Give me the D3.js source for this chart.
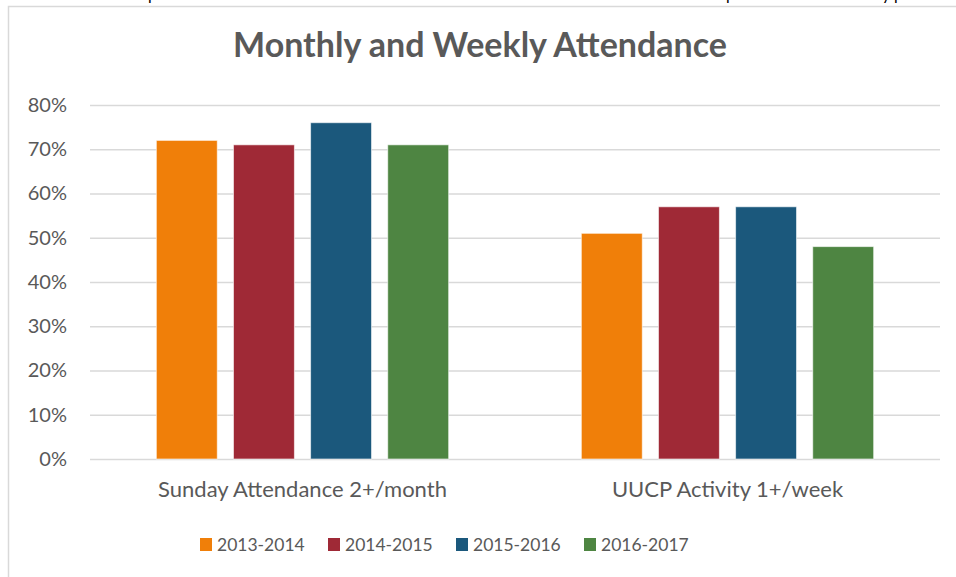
<!DOCTYPE html>
<html lang="en">
<head>
    <meta charset="utf-8"/>
    <title>Monthly and Weekly Attendance</title>
    <script src="https://d3js.org/d3.v7.min.js"></script>
    <style>
        body { margin: 0; background: #fff; }
        text { font-family: Lato, "Open Sans", sans-serif; fill: #595959; }
    </style>
</head>
<body>
<script>
    // data
    var categories = ['Sunday Attendance 2+/month', 'UUCP Activity 1+/week'];
    var seasons = ['2013-2014', '2014-2015', '2015-2016', '2016-2017'];
    var colors = ['#F07F09', '#9F2936', '#1B587C', '#4E8542'];
    var values = {
        '2013-2014': [0.72, 0.51],
        '2014-2015': [0.71, 0.57],
        '2015-2016': [0.76, 0.57],
        '2016-2017': [0.71, 0.48]
    };
    var yTicks = [0, 0.1, 0.2, 0.3, 0.4, 0.5, 0.6, 0.7, 0.8];

    var width = 956;
    var height = 577;
    var plotLeft = 90, plotRight = 940, plotTop = 105, plotBottom = 459;

    var svg = d3.select('body')
                .append('svg')
                .attr('width', width)
                .attr('height', height);

    // bits of the page text above the chart, only the descenders show
    var frag = svg.append('g').style('font-size', '16px');
    frag.append('text').attr('x', 148).attr('y', 0).style('fill', '#000').text('p');
    frag.append('text').attr('x', 726).attr('y', 0).style('fill', '#000').text('p');
    frag.append('text').attr('x', 882).attr('y', 0).style('fill', '#000').text('y p');

    // chart frame
    svg.append('rect')
       .attr('x', 8.5).attr('y', 6.5)
       .attr('width', 960).attr('height', 600)
       .attr('fill', '#fff')
       .attr('stroke', '#d9d9d9')
       .attr('stroke-width', 1.5);

    svg.append('text')
       .attr('x', 480).attr('y', 57)
       .attr('text-anchor', 'middle')
       .style('font-size', '34px')
       .style('font-weight', 'bold')
       .text('Monthly and Weekly Attendance');

    var y = d3.scaleLinear().domain([0, 0.8]).range([plotBottom, plotTop]);
    var x0 = d3.scaleBand().domain(categories).range([plotLeft, plotRight]);
    var x1 = d3.scaleBand().domain(seasons)
               .range([0, x0.bandwidth()])
               .paddingInner(0.21)
               .paddingOuter(0.86);
    var color = d3.scaleOrdinal().domain(seasons).range(colors);

    var yAxis = d3.axisLeft(y)
                  .tickValues(yTicks)
                  .tickSize(-(plotRight - plotLeft))
                  .tickPadding(23)
                  .tickFormat(d3.format('.0%'));

    var ga = svg.append('g')
                .attr('transform', 'translate(' + plotLeft + ',0)')
                .call(yAxis);
    ga.select('.domain').remove();
    ga.selectAll('.tick line').attr('stroke', '#d9d9d9').attr('stroke-width', 1.3);
    ga.selectAll('.tick text')
      .style('font-size', '20px')
      .style('fill', '#595959')
      .style('font-family', 'Lato, sans-serif');

    var groups = svg.append('g')
                    .selectAll('g')
                    .data(categories)
                    .enter()
                    .append('g')
                    .attr('transform', function (d) { return 'translate(' + x0(d) + ',0)'; });

    groups.selectAll('rect')
          .data(function (d, i) {
              return seasons.map(function (s) { return {season: s, value: values[s][i]}; });
          })
          .enter()
          .append('rect')
          .attr('x', function (d) { return x1(d.season); })
          .attr('y', function (d) { return y(d.value); })
          .attr('width', x1.bandwidth())
          .attr('height', function (d) { return y(0) - y(d.value); })
          .attr('fill', function (d) { return color(d.season); })
          .attr('stroke', '#fff')
          .attr('stroke-opacity', 0.6)
          .attr('stroke-width', 1);

    svg.append('g')
       .selectAll('text')
       .data(categories)
       .enter()
       .append('text')
       .attr('x', function (d) { return x0(d) + x0.bandwidth() / 2; })
       .attr('y', 497)
       .attr('text-anchor', 'middle')
       .style('font-size', '22px')
       .text(function (d) { return d; });

    // legend
    var lx = d3.scaleBand().domain(seasons).range([200, 712]);
    var legend = svg.append('g')
                    .selectAll('g')
                    .data(seasons)
                    .enter()
                    .append('g')
                    .attr('transform', function (d) { return 'translate(' + lx(d) + ',538)'; });
    legend.append('rect')
          .attr('width', 12).attr('height', 13)
          .attr('fill', function (d) { return color(d); });
    legend.append('text')
          .attr('x', 17).attr('y', 13)
          .style('font-size', '17.5px')
          .text(function (d) { return d; });
</script>
</body>
</html>
